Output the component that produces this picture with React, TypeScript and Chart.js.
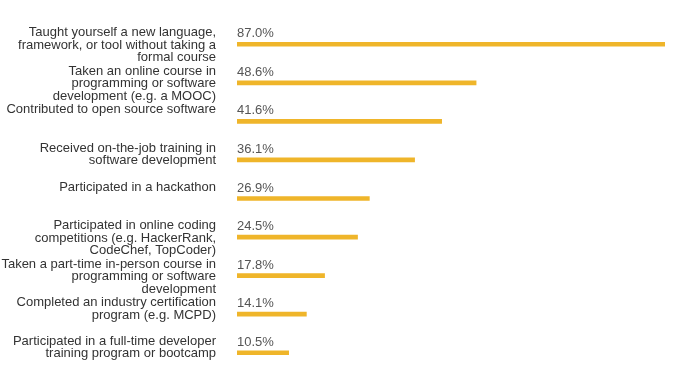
import React, { useEffect, useRef } from "react";
import { Chart, registerables } from "chart.js";

Chart.register(...registerables);

const categories: string[][] = [
  ["Taught yourself a new language,", "framework, or tool without taking a", "formal course"],
  ["Taken an online course in", "programming or software", "development (e.g. a MOOC)"],
  ["Contributed to open source software"],
  ["Received on-the-job training in", "software development"],
  ["Participated in a hackathon"],
  ["Participated in online coding", "competitions (e.g. HackerRank,", "CodeChef, TopCoder)"],
  ["Taken a part-time in-person course in", "programming or software", "development"],
  ["Completed an industry certification", "program (e.g. MCPD)"],
  ["Participated in a full-time developer", "training program or bootcamp"],
];

const values: number[] = [87.0, 48.6, 41.6, 36.1, 26.9, 24.5, 17.8, 14.1, 10.5];

const FONT = "13px 'Liberation Sans', Arial, Helvetica, sans-serif";

const labelPlugin = {
  id: "rowLabels",
  afterDatasetsDraw(chart: any) {
    const { ctx, scales } = chart;
    const y = scales.y;
    const x = scales.x;
    ctx.save();
    ctx.font = FONT;
    ctx.textBaseline = "alphabetic";
    categories.forEach((lines, i) => {
      const py = y.getPixelForValue(i);
      ctx.fillStyle = "#333333";
      ctx.textAlign = "right";
      lines.forEach((line, j) => {
        ctx.fillText(line, 216, py - 8 + j * 12.5);
      });
      ctx.fillStyle = "#555555";
      ctx.textAlign = "left";
      ctx.fillText(values[i].toFixed(1) + "%", x.left, py - 7);
    });
    ctx.restore();
  },
};

export default function App() {
  const ref = useRef<HTMLCanvasElement>(null);
  useEffect(() => {
    if (!ref.current) return;
    const chart = new Chart(ref.current, {
      type: "bar",
      data: {
        labels: categories.map((c) => c.join(" ")),
        datasets: [
          {
            data: values,
            backgroundColor: "#efb52a",
            borderWidth: 0,
            barThickness: 4,
          },
        ],
      },
      options: {
        indexAxis: "y",
        responsive: false,
        animation: false,
        layout: { padding: { left: 237, right: 19, top: 25, bottom: 0 } },
        plugins: { legend: { display: false }, tooltip: { enabled: false } },
        scales: {
          x: { display: false, min: 0, max: 87 },
          y: { display: false },
        },
      },
      plugins: [labelPlugin],
    });
    return () => chart.destroy();
  }, []);
  return (
    <div style={{ position: "fixed", left: 0, top: 0, width: 684, height: 372, background: "#fff" }}>
      <canvas ref={ref} width={684} height={372} />
    </div>
  );
}
